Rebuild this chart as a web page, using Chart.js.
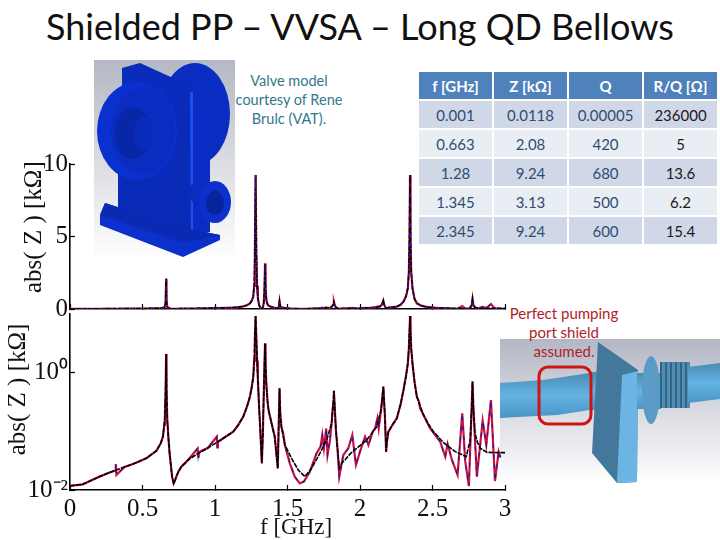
<!DOCTYPE html>
<html>
<head>
<meta charset="utf-8">
<script src="https://cdn.jsdelivr.net/npm/chart.js@4"></script>
<style>
  html, body { margin: 0; padding: 0; background: #fff; }
  #page { position: relative; width: 720px; height: 540px; overflow: hidden; font-family: Lato, sans-serif; }
  #page > * { position: absolute; }
  #art, canvas { left: 0; top: 0; }
  h1 { left: 0; top: 4px; width: 720px; margin: 0; text-align: center; font-size: 36px; font-weight: 400; line-height: 44px; color: #111; white-space: nowrap; }
  .note { font-size: 14.5px; line-height: 19px; text-align: center; white-space: nowrap; }
  #valveNote { left: 224px; top: 71px; width: 130px; color: #31788c; }
  #portNote { left: 494px; top: 304px; width: 140px; color: #b01c28; font-size: 15px; }
  #params { left: 417px; top: 70px; border-collapse: separate; border-spacing: 2px; table-layout: fixed; width: 302px; font-size: 15px; text-align: center; color: #2f4d72; }
  #params th { background: #4f81bd; color: #fff; font-weight: 700; height: 27px; padding: 0; }
  #params td { height: 27px; padding: 0; }
  #params tr:nth-child(odd) td { background: #d0d8e8; }
  #params tr:nth-child(even) td { background: #e9edf4; }
  #params td:last-child { color: #1a1a1a; }
</style>
</head>
<body>
<div id="page">
  <svg id="art" width="720" height="540">
    <defs>
      <linearGradient id="bgGrey" x1="0" y1="0" x2="0" y2="1">
        <stop offset="0" stop-color="#b4b8c4"/><stop offset="1" stop-color="#ffffff"/>
      </linearGradient>
      <linearGradient id="pipe" x1="0" y1="0" x2="0" y2="1">
        <stop offset="0" stop-color="#4a8cb4"/><stop offset="0.5" stop-color="#64b4e4"/><stop offset="1" stop-color="#4a94c4"/>
      </linearGradient>
      <pattern id="thread" width="5" height="8" patternUnits="userSpaceOnUse">
        <rect width="5" height="8" fill="#4f8eb2"/><rect width="2" height="8" fill="#2f6585"/>
      </pattern>
    </defs>
    <!-- valve model -->
    <rect x="94" y="60" width="141" height="200" fill="url(#bgGrey)"/>
    <ellipse cx="195" cy="114" rx="35" ry="51" fill="#0a2cc0"/>
    <polygon points="122,68 140,63 195,88 190,110 122,95" fill="#0a2cbc"/>
    <polygon points="118,165 190,92 192,236 118,215" fill="#0a2ab8"/>
    <polygon points="190,92 193,92 194,236 191,236" fill="#1c50f0"/>
    <polygon points="193,96 210,104 210,232 193,236" fill="#0a2cc4"/>
    <ellipse cx="137" cy="131" rx="40" ry="49" fill="#0b30d0"/>
    <ellipse cx="143" cy="131" rx="32" ry="44" fill="#0a2cc0"/>
    <ellipse cx="133" cy="133" rx="18" ry="26" fill="#0826a8"/>
    <ellipse cx="143" cy="133" rx="9" ry="16" fill="#0a2cbc"/>
    <polygon points="100,215 105,203 183,228 220,235 220,240 183,257 100,225" fill="#0b30cc"/>
    <polygon points="100,215 183,243 220,235 183,228 105,203" fill="#0a2ab4"/>
    <ellipse cx="197" cy="193" rx="8" ry="11" fill="#0a2cc0"/>
    <ellipse cx="215" cy="202" rx="16" ry="21" fill="#0b30cc"/>
    <ellipse cx="215" cy="203" rx="9" ry="12" fill="#08249c"/>
    <!-- pumping port model -->
    <rect x="500" y="339" width="220" height="145" fill="url(#bgGrey)"/>
    <polygon points="500,383 543,380 590,373 590,410 557,415 500,418" fill="url(#pipe)"/>
    <rect x="590" y="372" width="30" height="38" fill="url(#pipe)"/>
    <polygon points="598,342 638,370 637,482 617,483 592,453" fill="#44779c"/>
    <polygon points="622,375 638,371 637,482 617,483" fill="#6cb4e4"/>
    <rect x="637" y="373" width="24" height="36" fill="url(#pipe)"/>
    <ellipse cx="651" cy="390" rx="9" ry="34" fill="#5b9cc6"/>
    <rect x="660" y="362" width="30" height="46" fill="url(#thread)"/>
    <polygon points="688,367 720,363 720,399 688,403" fill="url(#pipe)"/>
    <rect x="539" y="367" width="52" height="57" rx="9" fill="none" stroke="#d01414" stroke-width="3"/>
  </svg>

  <h1>Shielded PP – VVSA – Long QD Bellows</h1>
  <div id="valveNote" class="note">Valve model<br>courtesy of Rene<br>Brulc (VAT).</div>
  <div id="portNote" class="note">Perfect pumping<br>port shield<br>assumed.</div>
  <table id="params"><thead></thead><tbody></tbody></table>

  <canvas id="linChart" width="720" height="540"></canvas>
  <canvas id="logChart" width="720" height="540"></canvas>
</div>

<script>
// impedance, f in GHz, Z in kOhm
const fitFreq = [0.001, 0.088, 0.145, 0.203, 0.26, 0.318, 0.376, 0.434, 0.48, 0.526, 0.56, 0.595, 0.625, 0.641, 0.65, 0.655, 0.659, 0.663, 0.666, 0.671, 0.679, 0.687, 0.696, 0.704, 0.715, 0.724, 0.733, 0.75, 0.768, 0.795, 0.814, 0.883, 0.95, 1.01, 1.07, 1.126,
    1.16, 1.195, 1.22, 1.241, 1.255, 1.264, 1.27, 1.275, 1.28, 1.285, 1.29, 1.296, 1.304, 1.312, 1.323, 1.33, 1.336, 1.341, 1.345, 1.349, 1.355, 1.362, 1.369, 1.39, 1.412, 1.433, 1.44, 1.445, 1.45, 1.458, 1.482,
    1.528, 1.574, 1.62, 1.666, 1.723, 1.77, 1.804, 1.815, 1.82, 1.826, 1.834, 1.845, 1.857, 1.875, 1.896, 1.935, 1.977, 2.046, 2.115,
    2.145, 2.155, 2.161, 2.167, 2.173, 2.18, 2.187, 2.196, 2.225, 2.254, 2.28, 2.3, 2.318, 2.33, 2.337, 2.341, 2.345, 2.349, 2.353, 2.362, 2.376, 2.392,
    2.415, 2.438, 2.47, 2.507, 2.576, 2.657, 2.733, 2.76, 2.77, 2.776, 2.782, 2.793, 2.81, 2.83, 2.876, 2.968, 3];
const fitZ = [0.0118, 0.0125, 0.0145, 0.0169, 0.0193, 0.0219, 0.0247, 0.0277, 0.031, 0.0347, 0.04, 0.0462, 0.062, 0.081, 0.13, 0.203, 0.45, 2.08, 0.5, 0.156, 0.075, 0.042, 0.026, 0.0169, 0.013, 0.0145, 0.0169, 0.021, 0.025, 0.029, 0.0325, 0.042, 0.052, 0.064, 0.08, 0.0986,
    0.128, 0.178, 0.26, 0.39, 0.6, 0.855, 1.6, 4, 9.24, 4, 1.6, 0.75, 0.263, 0.11, 0.0285, 0.09, 0.4, 1.3, 3.13, 1.3, 0.577, 0.33, 0.231, 0.137, 0.081, 0.0234, 0.15, 0.541, 0.2, 0.12, 0.0585,
    0.0347, 0.0219, 0.0169, 0.0234, 0.042, 0.071, 0.137, 0.3, 0.493, 0.25, 0.105, 0.05, 0.0234, 0.029, 0.0325, 0.042, 0.0513, 0.071, 0.12,
    0.231, 0.4, 0.577, 0.3, 0.156, 0.045, 0.07, 0.0986, 0.13, 0.167, 0.29, 0.507, 0.9, 1.44, 2.6, 4.6, 9.24, 4.6, 2.6, 1.44, 0.7, 0.39,
    0.27, 0.19, 0.135, 0.0986, 0.064, 0.045, 0.037, 0.071, 0.25, 0.703, 0.25, 0.0925, 0.065, 0.0513, 0.0438, 0.0433, 0.0433];
const measFreq = [0.001, 0.088, 0.145, 0.203, 0.26, 0.312, 0.316, 0.32, 0.376, 0.434, 0.48, 0.526, 0.56, 0.595, 0.625, 0.641, 0.65, 0.655, 0.659, 0.663, 0.666, 0.671, 0.679, 0.687, 0.696, 0.704, 0.715, 0.724, 0.733, 0.75, 0.768, 0.795, 0.814, 0.88, 0.884, 0.888, 0.95, 1.012, 1.016, 1.02, 1.07, 1.126,
    1.16, 1.195, 1.22, 1.241, 1.255, 1.264, 1.27, 1.275, 1.28, 1.285, 1.29, 1.296, 1.304, 1.312, 1.323, 1.33, 1.336, 1.341, 1.345, 1.349, 1.355, 1.362, 1.369, 1.39, 1.412, 1.433, 1.44, 1.445, 1.45, 1.458, 1.47, 1.482,
    1.516, 1.55, 1.585, 1.613, 1.654, 1.7, 1.728, 1.74, 1.751, 1.767, 1.776, 1.793, 1.804, 1.815, 1.82, 1.826, 1.834, 1.845, 1.857, 1.885, 1.919, 1.947, 1.972, 2, 2.035, 2.058, 2.088, 2.104, 2.12, 2.129,
    2.145, 2.155, 2.161, 2.167, 2.173, 2.18, 2.187, 2.196, 2.225, 2.254, 2.28, 2.3, 2.318, 2.33, 2.337, 2.341, 2.345, 2.349, 2.353, 2.362, 2.376, 2.392,
    2.405, 2.415, 2.45, 2.484, 2.553, 2.588, 2.604, 2.634, 2.673, 2.705, 2.726, 2.751, 2.77, 2.776, 2.782, 2.806, 2.846, 2.871, 2.903, 2.931, 2.956, 2.968];
const measZ = [0.0118, 0.0125, 0.0145, 0.0169, 0.0193, 0.0215, 0.0277, 0.018, 0.0247, 0.0277, 0.031, 0.0347, 0.04, 0.0462, 0.062, 0.081, 0.13, 0.203, 0.45, 2.08, 0.5, 0.156, 0.075, 0.042, 0.026, 0.0169, 0.013, 0.0145, 0.0169, 0.021, 0.025, 0.029, 0.0325, 0.051, 0.037, 0.044, 0.052, 0.081, 0.053, 0.066, 0.08, 0.0986,
    0.128, 0.178, 0.26, 0.39, 0.6, 0.855, 1.6, 4, 9.24, 4, 1.6, 0.75, 0.263, 0.11, 0.0285, 0.09, 0.4, 1.3, 3.13, 1.3, 0.577, 0.33, 0.231, 0.137, 0.081, 0.0234, 0.15, 0.541, 0.2, 0.12, 0.0925, 0.0585,
    0.0285, 0.0169, 0.013, 0.0139, 0.0205, 0.042, 0.055, 0.0866, 0.0513, 0.112, 0.0395, 0.071, 0.137, 0.3, 0.493, 0.25, 0.105, 0.05, 0.0169, 0.0395, 0.0513, 0.0866, 0.0267, 0.045, 0.081, 0.0585, 0.0986, 0.112, 0.167, 0.112,
    0.231, 0.4, 0.577, 0.3, 0.156, 0.045, 0.07, 0.0986, 0.13, 0.167, 0.29, 0.507, 0.9, 1.44, 2.6, 4.6, 9.24, 4.6, 2.6, 1.44, 0.7, 0.39,
    0.33, 0.247, 0.165, 0.112, 0.0667, 0.037, 0.0608, 0.0325, 0.018, 0.203, 0.0304, 0.0117, 0.25, 0.703, 0.25, 0.0169, 0.152, 0.0585, 0.342, 0.0142, 0.045, 0.036];

const xTicks = [0, 0.5, 1, 1.5, 2, 2.5, 3];
const linTicks = [0, 5, 10];
const logTicks = [0.01, 1];
const logLabels = ["10⁻²", "10⁰"];

const tableHead = ["f [GHz]", "Z [kΩ]", "Q", "R/Q [Ω]"];
const tableFreq = ["0.001", "0.663", "1.28", "1.345", "2.345"];
const tableZ = ["0.0118", "2.08", "9.24", "3.13", "9.24"];
const tableQ = ["0.00005", "420", "680", "500", "600"];
const tableRQ = ["236000", "5", "13.6", "6.2", "15.4"];

document.querySelector("#params thead").innerHTML =
    "<tr>" + tableHead.map(h => "<th>" + h + "</th>").join("") + "</tr>";
document.querySelector("#params tbody").innerHTML = tableFreq.map((f, i) =>
    "<tr><td>" + [f, tableZ[i], tableQ[i], tableRQ[i]].join("</td><td>") + "</td></tr>").join("");

function toPoints(xs, ys) {
    return xs.map((x, i) => ({ x: x, y: ys[i] }));
}

// red measured line, black fit, blue dashes over or under the fit
function impedanceSets(blueOrder) {
    return [
        { data: toPoints(fitFreq, fitZ), borderColor: "#000", borderWidth: 1.6, borderDash: [5, 1], order: 1 },
        { data: toPoints(measFreq, measZ), borderColor: "#1e1e96", borderWidth: 1.2, borderDash: [4, 6], order: blueOrder },
        { data: toPoints(measFreq, measZ), borderColor: "#cf1040", borderWidth: 2.2, order: 3 }
    ];
}

const serif = '"Liberation Serif", serif';

function axisOptions(chartOptions) {
    return Object.assign({
        grid: { drawOnChartArea: false, tickLength: -5, tickColor: "#000", tickWidth: 1.2 },
        border: { color: "#000", width: 1.6 }
    }, chartOptions);
}

function plot(id, blueOrder, padding, xExtra, yExtra) {
    new Chart(document.getElementById(id), {
        type: "line",
        data: { datasets: impedanceSets(blueOrder) },
        options: {
            responsive: false,
            animation: false,
            layout: { padding: padding, autoPadding: false },
            elements: { point: { radius: 0 }, line: { tension: 0 } },
            plugins: { legend: { display: false }, tooltip: { enabled: false } },
            scales: {
                x: axisOptions(Object.assign({
                    type: "linear",
                    min: 0,
                    max: 3,
                    afterBuildTicks: s => { s.ticks = xTicks.map(v => ({ value: v })); }
                }, xExtra)),
                y: axisOptions(yExtra)
            }
        }
    });
}

plot("linChart", 0, { top: 164, left: 19, right: 215, bottom: 227 }, {
    ticks: { display: false },
    afterFit: s => { s.height = 4; }
}, {
    type: "linear",
    min: 0,
    max: 10,
    afterBuildTicks: s => { s.ticks = linTicks.map(v => ({ value: v })); },
    afterFit: s => { s.width = 51; },
    ticks: { color: "#111", padding: 7, font: { family: serif, size: 25 } },
    title: { display: true, text: "   abs( Z ) [kΩ]", color: "#111", padding: 0, font: { family: serif, size: 25 } }
});

plot("logChart", 2, { top: 314, left: 3, right: 215, bottom: 0 }, {
    ticks: { color: "#111", padding: 9, maxRotation: 0, font: { family: serif, size: 25 }, callback: v => String(v) },
    afterFit: s => { s.height = 50; },
    title: { display: true, text: "   f [GHz]", color: "#111", padding: { top: 0, bottom: -2 }, font: { family: serif, size: 23 } }
}, {
    type: "logarithmic",
    min: 0.01,
    max: 10,
    afterBuildTicks: s => { s.ticks = logTicks.map(v => ({ value: v })); },
    afterFit: s => { s.width = 67; },
    ticks: {
        color: "#111",
        padding: 7,
        font: { family: serif, size: 25 },
        callback: v => logLabels[logTicks.indexOf(v)]
    },
    title: { display: true, text: "    abs( Z ) [kΩ]", color: "#111", padding: 0, font: { family: serif, size: 25 } }
});
</script>
</body>
</html>
